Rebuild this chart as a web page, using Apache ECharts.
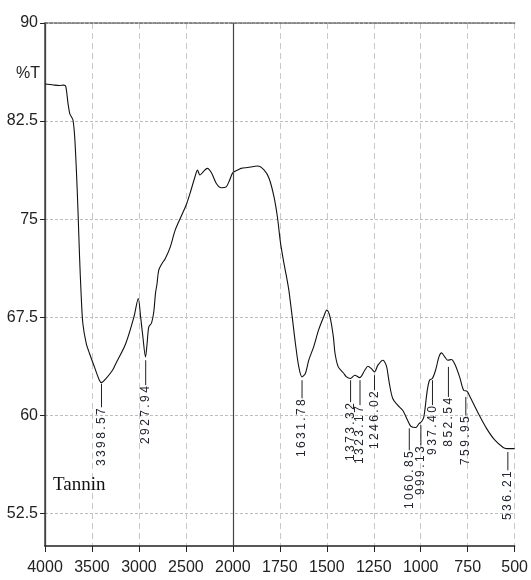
<!DOCTYPE html>
<html>
<head>
<meta charset="utf-8">
<title>FTIR Tannin</title>
<script src="https://cdn.jsdelivr.net/npm/echarts@6/dist/echarts.min.js"></script>
<style>
  html, body { margin: 0; padding: 0; background: #fff; }
  #chart { width: 531px; height: 580px; }
</style>
</head>
<body>
<div id="chart"></div>
<script>
// spectrum: [wavenumber cm-1, %T]
const spectrum = [
  [4000, 85.33], [3950, 85.30], [3900, 85.25], [3850, 85.22], [3800, 85.25], [3779, 85.15],
  [3755, 83.85], [3737, 83.09], [3719, 82.83], [3702, 82.58], [3684, 81.30], [3666, 78.75],
  [3649, 75.69], [3632, 72.11], [3614, 69.05], [3597, 67.02], [3561, 65.49], [3526, 64.72],
  [3474, 63.70], [3421, 62.68], [3399, 62.50], [3351, 62.81], [3281, 63.44], [3245, 63.96],
  [3140, 65.49], [3053, 67.52], [3007, 68.93], [2982, 67.52], [2958, 66.00], [2930, 64.46],
  [2913, 65.49], [2895, 66.76], [2866, 67.05], [2842, 67.90], [2824, 69.30], [2807, 70.08],
  [2789, 71.10], [2754, 71.61], [2719, 71.99], [2666, 72.88], [2614, 74.16], [2544, 75.31],
  [2491, 76.20], [2456, 76.97], [2403, 78.24], [2376, 78.75], [2351, 78.37], [2316, 78.62],
  [2271, 78.88], [2228, 78.54], [2176, 77.73], [2123, 77.40], [2071, 77.47], [2035, 77.98],
  [2000, 78.55], [1974, 78.75], [1956, 78.88], [1921, 78.95], [1868, 79.06], [1833, 78.75],
  [1807, 78.11], [1781, 76.71], [1763, 75.18], [1746, 73.14], [1728, 71.61], [1711, 70.33],
  [1702, 69.57], [1684, 67.52], [1667, 65.49], [1649, 63.70], [1632, 62.93], [1614, 63.19],
  [1596, 64.21], [1570, 65.23], [1544, 66.51], [1517, 67.52], [1500, 68.04], [1483, 67.52],
  [1465, 66.00], [1456, 64.72], [1439, 63.70], [1412, 63.25], [1395, 62.93], [1374, 62.81],
  [1351, 63.06], [1325, 62.88], [1298, 63.44], [1281, 63.75], [1263, 63.57], [1246, 63.32],
  [1228, 63.83], [1202, 64.21], [1184, 63.83], [1175, 63.19], [1167, 62.43], [1149, 61.28],
  [1123, 60.77], [1096, 60.38], [1070, 59.62], [1053, 59.16], [1026, 59.06], [1009, 59.36],
  [995, 59.52], [983, 59.90], [965, 61.92], [953, 62.68], [938, 62.81], [921, 63.44],
  [903, 64.46], [889, 64.77], [872, 64.46], [856, 64.21], [837, 64.26], [816, 63.83],
  [793, 62.93], [772, 61.92], [754, 61.84], [737, 61.40], [693, 60.13], [649, 58.98],
  [605, 58.09], [561, 57.53], [543, 57.45], [500, 57.45]
];

// labelled peaks
const peakWavenumbers = [3398.57, 2927.94, 1631.78, 1373.32, 1323.17, 1246.02, 1060.85, 999.13, 937.40, 852.54, 759.95, 536.21];
const peakLineTop = [62.42, 64.21, 62.68, 62.68, 62.68, 63.06, 59.00, 59.24, 62.68, 63.70, 61.40, 57.19];
const peakLabelTop = [60.61, 62.30, 61.30, 61.00, 60.77, 61.91, 57.32, 57.70, 60.77, 61.40, 60.00, 55.79];

const xTickLabels = ['4000', '3500', '3000', '2500', '2000', '1750', '1500', '1250', '1000', '750', '500'];
const yTicks = [52.5, 60, 67.5, 75, 82.5, 90];

// instrument scale doubles below 2000 cm-1
function toPos(wn) {
  return wn >= 2000 ? (4000 - wn) / 500 : 4 + (2000 - wn) / 250;
}

const narrow = '"Liberation Sans Narrow", "Arial Narrow", "Liberation Sans", sans-serif';

const chart = echarts.init(document.getElementById('chart'), null, { renderer: 'canvas' });

chart.setOption({
  animation: false,
  backgroundColor: '#fff',
  title: [
    { text: '%T', left: 16, top: 66, padding: 0,
      textStyle: { fontFamily: narrow, fontSize: 16, fontWeight: 'normal', color: '#222' } },
    { text: 'Tannin', left: 53, top: 476, padding: 0,
      textStyle: { fontFamily: '"Liberation Serif", serif', fontSize: 19, fontWeight: 'normal', color: '#111' } }
  ],
  grid: { left: 45, right: 11, top: 23, bottom: 34 },
  xAxis: [
    {
      type: 'value', min: 0, max: 10, interval: 1,
      axisLine: { lineStyle: { color: '#222', width: 1.5 } },
      axisTick: { length: 6, lineStyle: { color: '#222' } },
      axisLabel: {
        margin: 14, fontFamily: narrow, fontSize: 16, color: '#222',
        formatter: v => xTickLabels[Math.round(v)]
      },
      splitLine: { show: true, lineStyle: { color: '#c8c8c8', type: [6, 4], width: 1 } }
    },
    {
      type: 'value', min: 0, max: 10, position: 'top',
      axisLine: { show: true, lineStyle: { color: '#6a6a6a', width: 1.5, type: [3, 1.5] } },
      axisTick: { show: false }, axisLabel: { show: false }, splitLine: { show: false }
    }
  ],
  yAxis: [
    {
      type: 'value', min: 50, max: 90,
      axisLine: { show: true, lineStyle: { color: '#444', width: 1.3 } },
      axisTick: { show: true, length: 5, customValues: yTicks, lineStyle: { color: '#222' } },
      axisLabel: { margin: 7, fontFamily: narrow, fontSize: 16, color: '#222', customValues: yTicks },
      splitLine: { show: true, lineStyle: { color: '#bdbdbd', type: [3, 2], width: 1 } }
    },
    {
      type: 'value', min: 50, max: 90, position: 'right',
      axisLine: { show: true, lineStyle: { color: '#444', width: 1.5 } },
      axisTick: { show: false }, axisLabel: { show: false }, splitLine: { show: false }
    }
  ],
  series: [
    {
      type: 'line',
      data: spectrum.map(d => [toPos(d[0]), d[1]]),
      showSymbol: false,
      smooth: 0.3,
      lineStyle: { color: '#111', width: 1.1 },
      silent: true,
      markLine: {
        silent: true, symbol: 'none', label: { show: false },
        lineStyle: { color: '#444', width: 1.2, type: 'solid' },
        data: [{ xAxis: toPos(2000) }]
      }
    },
    {
      type: 'custom',
      coordinateSystem: 'cartesian2d',
      silent: true,
      data: peakWavenumbers.map((w, i) => [toPos(w), peakLineTop[i], peakLabelTop[i]]),
      renderItem: function (params, api) {
        const top = api.coord([api.value(0), api.value(1)]);
        const bot = api.coord([api.value(0), api.value(2)]);
        const txt = peakWavenumbers[params.dataIndex].toFixed(2).split('').join('\u2009');
        return {
          type: 'group',
          children: [
            { type: 'line', shape: { x1: top[0], y1: top[1], x2: bot[0], y2: bot[1] },
              style: { stroke: '#222', lineWidth: 1 } },
            { type: 'text', x: bot[0], y: bot[1] + 1, rotation: Math.PI / 2,
              style: { text: txt, align: 'right', verticalAlign: 'middle',
                       font: '12px "Liberation Sans", Arial, sans-serif', fill: '#22252e' } }
          ]
        };
      }
    }
  ]
});
</script>
</body>
</html>
